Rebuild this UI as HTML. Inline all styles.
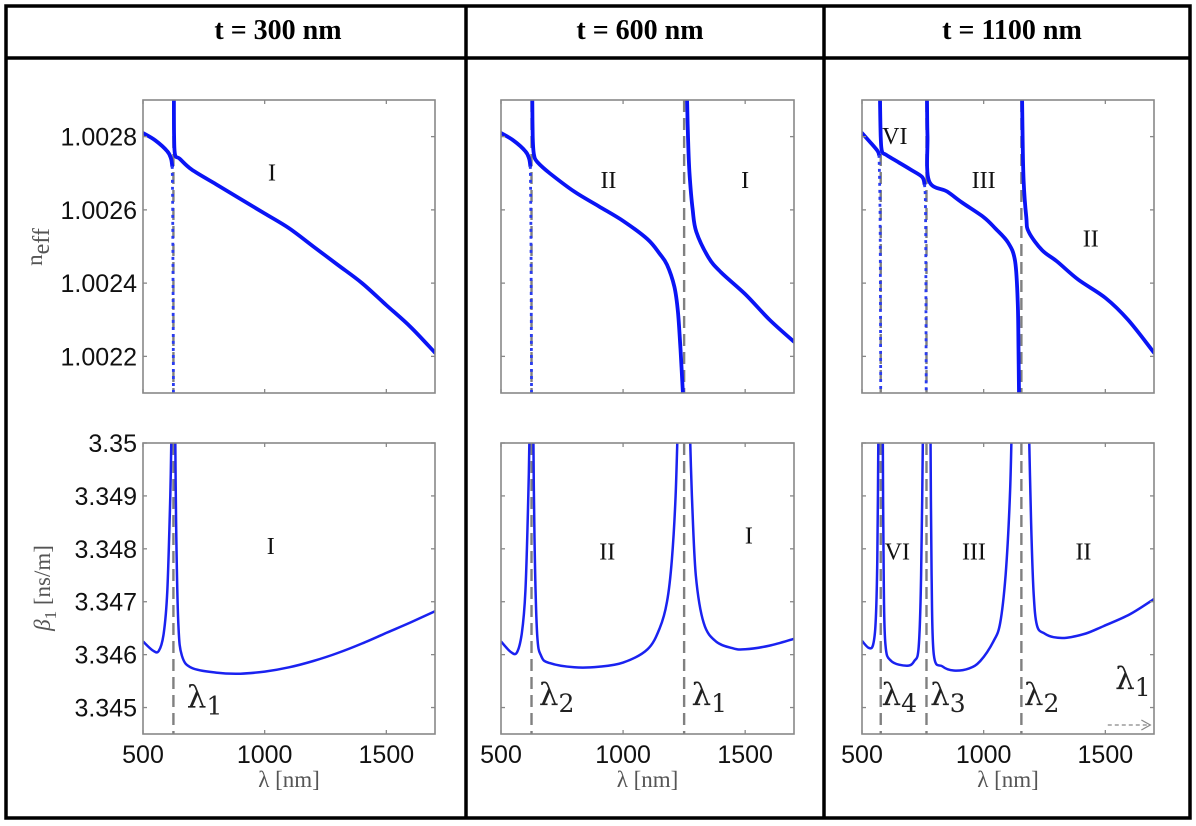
<!DOCTYPE html>
<html><head><meta charset="utf-8"><style>
html,body{margin:0;padding:0;background:#fff;}
svg{display:block;}
.tick{font-family:"Liberation Sans",sans-serif;font-size:25px;fill:#111;}
.rom{font-family:"Liberation Serif",serif;font-size:24px;fill:#111;}
.lam{font-family:"DejaVu Serif","Liberation Serif",serif;font-size:31px;fill:#222;}
.hdr{font-family:"Liberation Serif",serif;font-size:28px;font-weight:bold;fill:#000;}
.axl{font-family:"Liberation Serif",serif;font-size:23px;fill:#555;}
</style></head><body>
<svg id="fig" width="1196" height="826" viewBox="0 0 1196 826" xmlns="http://www.w3.org/2000/svg">
<g stroke="#000" stroke-width="3.5" fill="none">
<rect x="6" y="6" width="1184" height="812"/>
<line x1="6" y1="58" x2="1190" y2="58"/>
<line x1="466" y1="6" x2="466" y2="818"/>
<line x1="824" y1="6" x2="824" y2="818"/>
</g>
<text class="hdr" x="278" y="39" text-anchor="middle">t = 300 nm</text>
<text class="hdr" x="640" y="39" text-anchor="middle">t = 600 nm</text>
<text class="hdr" x="1012" y="39" text-anchor="middle">t = 1100 nm</text>
<g id="plots"></g>
</svg>
<script>
// ---- shared axis data ----
const xTicks = [500, 1000, 1500];
const xDomain = [500, 1700];
const neffDomain = [1.0021, 1.0029];
const neffTicks = [1.0022, 1.0024, 1.0026, 1.0028];
const neffTickLabels = ["1.0022", "1.0024", "1.0026", "1.0028"];
const betaDomain = [3.3445, 3.35];
const betaTicks = [3.345, 3.346, 3.347, 3.348, 3.349, 3.35];
const betaTickLabels = ["3.345", "3.346", "3.347", "3.348", "3.349", "3.35"];

// ---- panel 1 (t = 300 nm) ----
const p1Res = [625];
const p1NeffA = [[500,1.00281],[550,1.00279],[600,1.00276],[615,1.00274],[620,1.00272]];
const p1NeffAdot = [[620,1.00272],[622,1.0026],[624,1.0023],[625,1.0021]];
const p1NeffB = [[627,1.0029],[628,1.0028],[632,1.00275],[650,1.00274],[700,1.00271],[800,1.00267],[900,1.00263],[1000,1.00259],[1100,1.00255],[1200,1.0025],[1300,1.00245],[1400,1.0024],[1500,1.00234],[1600,1.00228],[1700,1.00221]];
const p1BetaA = [[500,3.34625],[540,3.34608],[565,3.34607],[585,3.3464],[600,3.3472],[612,3.349],[618,3.3505]];
const p1BetaB = [[632,3.3505],[636,3.3485],[645,3.3466],[660,3.34598],[700,3.34575],[800,3.34566],[900,3.34564],[1000,3.34568],[1100,3.34576],[1200,3.34588],[1300,3.34603],[1400,3.34621],[1500,3.34641],[1600,3.34661],[1700,3.34682]];

// ---- panel 2 (t = 600 nm) ----
const p2Res = [625, 1250];
const p2NeffA = [[500,1.00281],[550,1.00279],[600,1.00276],[615,1.00274],[620,1.00272]];
const p2NeffAdot = [[620,1.00272],[622,1.0026],[624,1.0023],[625,1.0021]];
const p2NeffB = [[628,1.0029],[630,1.0028],[635,1.00275],[650,1.00273],[700,1.0027],[800,1.00265],[900,1.00261],[1000,1.00257],[1100,1.00252],[1150,1.00248],[1180,1.00245],[1210,1.00239],[1225,1.00232],[1235,1.00222],[1245,1.0021]];
const p2NeffC = [[1262,1.0029],[1266,1.0028],[1272,1.0027],[1285,1.0026],[1300,1.00254],[1350,1.00247],[1400,1.00243],[1500,1.00237],[1600,1.0023],[1700,1.00224]];
const p2BetaA = [[500,3.34625],[540,3.34605],[565,3.34604],[585,3.3464],[600,3.3472],[612,3.349],[618,3.3505]];
const p2BetaB = [[632,3.3505],[637,3.3482],[648,3.3464],[665,3.34597],[700,3.34584],[800,3.34576],[900,3.34577],[1000,3.34585],[1100,3.3461],[1150,3.3465],[1180,3.347],[1200,3.3478],[1215,3.349],[1225,3.3505]];
const p2BetaC = [[1272,3.3505],[1282,3.349],[1298,3.3475],[1330,3.3466],[1380,3.34625],[1450,3.34612],[1500,3.3461],[1600,3.34617],[1700,3.3463]];

// ---- panel 3 (t = 1100 nm) ----
const p3Res = [577, 765, 1155];
const p3NeffA = [[500,1.00281],[540,1.00278],[565,1.00276],[570,1.00275]];
const p3NeffAdot = [[570,1.00275],[574,1.0026],[576,1.0023],[577,1.0021]];
const p3NeffB = [[574,1.0029],[577,1.0028],[582,1.00276],[600,1.00275],[650,1.00273],[700,1.00271],[747,1.00269],[757,1.00267]];
const p3NeffBdot = [[757,1.00267],[761,1.0026],[763,1.0023],[764,1.0021]];
const p3NeffC = [[767,1.0029],[769,1.0028],[775,1.00268],[850,1.00265],[911,1.00262],[1000,1.00258],[1047,1.00255],[1101,1.00251],[1129,1.00246],[1140,1.00235],[1143,1.00222],[1145,1.0021]];
const p3NeffD = [[1158,1.0029],[1160,1.0028],[1164,1.00268],[1175,1.00258],[1185,1.00254],[1240,1.00249],[1300,1.00246],[1388,1.00241],[1500,1.00236],[1593,1.0023],[1700,1.00221]];
const p3BetaA = [[500,3.34626],[527,3.34613],[545,3.34618],[556,3.3466],[563,3.3478],[568,3.3505]];
const p3BetaB = [[585,3.3505],[589,3.3475],[596,3.3462],[620,3.34588],[685,3.34579],[715,3.34588],[733,3.34615],[743,3.3475],[751,3.3505]];
const p3BetaC = [[781,3.3505],[786,3.3475],[795,3.346],[830,3.34578],[877,3.3457],[940,3.34574],[986,3.34588],[1040,3.34625],[1068,3.3466],[1090,3.3475],[1108,3.349],[1116,3.3505]];
const p3BetaD = [[1185,3.3505],[1195,3.3485],[1205,3.3472],[1219,3.34655],[1250,3.3464],[1288,3.34633],[1342,3.34632],[1420,3.3464],[1493,3.34654],[1600,3.34676],[1700,3.34705]];

const panels = [
  {id:"t300", x0:143, w:292, res:p1Res, neff:[p1NeffA,p1NeffB], neffDot:[p1NeffAdot], beta:[p1BetaA,p1BetaB], yLabels:true,
   topRom:[["I",1030,1.00268]], botRom:[["I",1025,3.3479]],
   lams:[["1",680,3.3450]], arrow:false},
  {id:"t600", x0:501, w:293, res:p2Res, neff:[p2NeffA,p2NeffB,p2NeffC], neffDot:[p2NeffAdot], beta:[p2BetaA,p2BetaB,p2BetaC], yLabels:false,
   topRom:[["II",940,1.00266],["I",1500,1.00266]], botRom:[["II",935,3.3478],["I",1515,3.3481]],
   lams:[["2",655,3.34505],["1",1280,3.34505]], arrow:false},
  {id:"t1100", x0:862, w:292, res:p3Res, neff:[p3NeffA,p3NeffB,p3NeffC,p3NeffD], neffDot:[p3NeffAdot,p3NeffBdot], beta:[p3BetaA,p3BetaB,p3BetaC,p3BetaD], yLabels:false,
   topRom:[["VI",635,1.00278],["III",1000,1.00266],["II",1440,1.0025]], botRom:[["VI",645,3.3478],["III",960,3.3478],["II",1410,3.3478]],
   lams:[["4",580,3.34505],["3",780,3.34505],["2",1165,3.34505],["1",1540,3.34535]], arrow:true}
];
const TOP_Y0 = 100, TOP_H = 293, BOT_Y0 = 443, BOT_H = 291;
const NS = "http://www.w3.org/2000/svg";
const root = document.getElementById("plots");
function mk(tag, attrs, parent){ const e=document.createElementNS(NS,tag); for(const k in attrs) e.setAttribute(k,attrs[k]); parent.appendChild(e); return e; }
function pathD(pts, xs, ys){
  const P = pts.map(p => [xs(p[0]), ys(p[1])]);
  let d = "M" + P[0][0].toFixed(1) + "," + P[0][1].toFixed(1);
  for (let i = 0; i < P.length - 1; i++) {
    const p0 = P[i-1] || P[i], p1 = P[i], p2 = P[i+1], p3 = P[i+2] || P[i+1];
    const k = 1/6;
    const c1 = [p1[0] + (p2[0]-p0[0])*k, p1[1] + (p2[1]-p0[1])*k];
    const c2 = [p2[0] - (p3[0]-p1[0])*k, p2[1] - (p3[1]-p1[1])*k];
    d += "C" + c1[0].toFixed(1) + "," + c1[1].toFixed(1) + " " + c2[0].toFixed(1) + "," + c2[1].toFixed(1) + " " + p2[0].toFixed(1) + "," + p2[1].toFixed(1);
  }
  return d;
}

panels.forEach((P, pi) => {
  const xs = v => P.x0 + (v - xDomain[0]) / (xDomain[1] - xDomain[0]) * P.w;
  [["neff", TOP_Y0, TOP_H, neffDomain, neffTicks, neffTickLabels],
   ["beta", BOT_Y0, BOT_H, betaDomain, betaTicks, betaTickLabels]].forEach(([kind, y0, h, dom, ticks, tlabels]) => {
    const ys = v => y0 + h - (v - dom[0]) / (dom[1] - dom[0]) * h;
    const g = mk("g", {}, root);
    
    
    const cid = "clip-" + kind + pi;
    const cp = mk("clipPath", {id: cid}, g);
    mk("rect", {x:P.x0, y:y0, width:P.w, height:h}, cp);
    P.res.forEach(r => {
      const l = mk("line", {x1:xs(r), x2:xs(r), y1:y0, y2:y0+h, stroke:"#808080", "stroke-width":2.4, "stroke-dasharray":"12 6"}, g);
      
      
    });
    const cg = mk("g", {"clip-path":"url(#"+cid+")"}, g);
    if (kind === "neff") {
      P.neff.forEach(seg => {
        const p = mk("path", {d:pathD(seg, xs, ys), fill:"none", stroke:"#0a14f5", "stroke-width":3.8, "stroke-linejoin":"round", "stroke-linecap":"round"}, cg);
        
        
      });
      P.neffDot.forEach(seg => {
        const p = mk("path", {d:pathD(seg, xs, ys), fill:"none", stroke:"#2a3cf0", "stroke-width":2.8, "stroke-dasharray":"3 4"}, cg);
        
        
      });
    } else {
      P.beta.forEach(seg => {
        const p = mk("path", {d:pathD(seg, xs, ys), fill:"none", stroke:"#1a22f0", "stroke-width":2.5, "stroke-linejoin":"round"}, cg);
        
        
      });
    }
    const fr = mk("rect", {x:P.x0, y:y0, width:P.w, height:h, fill:"none", stroke:"#888", "stroke-width":1.6}, g);
    
    
    xTicks.forEach(t => {
      mk("line", {x1:xs(t), x2:xs(t), y1:y0+h, y2:y0+h-4, stroke:"#888", "stroke-width":1.3}, g);
      mk("line", {x1:xs(t), x2:xs(t), y1:y0, y2:y0+4, stroke:"#888", "stroke-width":1.3}, g);
      if (kind === "beta") {
        const tx = mk("text", {x:xs(t), y:y0+h+29, "text-anchor":"middle", class:"tick"}, g);
        tx.textContent = t;
        
        
      }
    });
    ticks.forEach((t, i) => {
      mk("line", {x1:P.x0, x2:P.x0+4, y1:ys(t), y2:ys(t), stroke:"#888", "stroke-width":1.3}, g);
      mk("line", {x1:P.x0+P.w, x2:P.x0+P.w-4, y1:ys(t), y2:ys(t), stroke:"#888", "stroke-width":1.3}, g);
      if (P.yLabels) {
        const tx = mk("text", {x:P.x0-6, y:ys(t)+9, "text-anchor":"end", class:"tick"}, g);
        tx.textContent = tlabels[i];
        
        
      }
    });
    (kind === "neff" ? P.topRom : P.botRom).forEach(r => {
      const tx = mk("text", {x:xs(r[1]), y:ys(r[2]), "text-anchor":"middle", class:"rom"}, g);
      tx.textContent = r[0];
      
      
    });
    if (kind === "beta") {
      P.lams.forEach(l => {
        const tx = mk("text", {x:xs(l[1]), y:ys(l[2]), class:"lam"}, g);
        tx.textContent = "λ";
        const sub = mk("tspan", {"font-size":"25", dy:"7"}, tx);
        sub.textContent = l[0];
        
        
      });
      if (P.arrow) {
        const ay = y0 + h - 9;
        const ar = mk("g", {stroke:"#888", "stroke-width":1.2, fill:"none"}, g);
        
        
        mk("line", {x1:xs(1510), x2:xs(1685), y1:ay, y2:ay, "stroke-dasharray":"4 3"}, ar);
        mk("path", {d:"M"+(xs(1685)-9)+","+(ay-5)+"L"+xs(1685)+","+ay+"L"+(xs(1685)-9)+","+(ay+5)}, ar);
      }
      const xl = mk("text", {x:P.x0+P.w/2, y:y0+h+53, "text-anchor":"middle", class:"axl"}, g);
      xl.textContent = "λ [nm]";
      
      
    }
  });
});
const yl1 = mk("text", {transform:"translate(42,247) rotate(-90)", "text-anchor":"middle", class:"axl", "font-size":"30"}, root);
yl1.textContent = "n";
const s1 = mk("tspan", {dy:"7", "font-size":"24"}, yl1); s1.textContent = "eff";


const yl2 = mk("text", {transform:"translate(50,588) rotate(-90)", "text-anchor":"middle", class:"axl", "font-size":"25"}, root);
const b = mk("tspan", {"font-style":"italic"}, yl2); b.textContent = "β";
const bs = mk("tspan", {dy:"6", "font-size":"17"}, yl2); bs.textContent = "1";
const br = mk("tspan", {dy:"-6"}, yl2); br.textContent = " [ns/m]";


</script>
</body></html>
